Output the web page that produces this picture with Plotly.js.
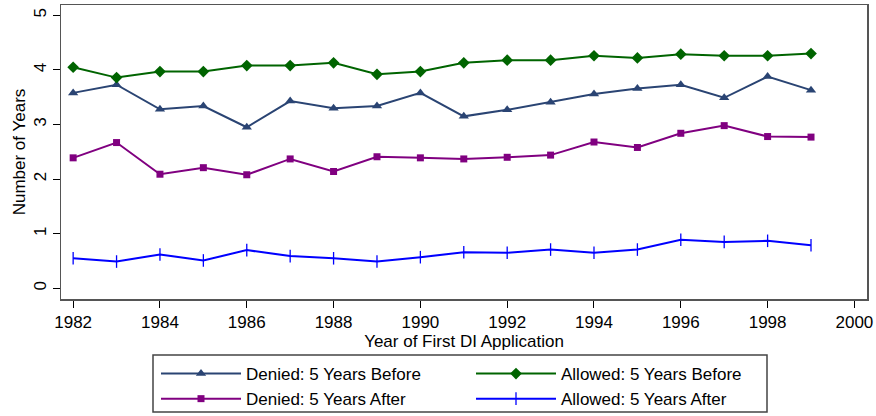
<!DOCTYPE html>
<html>
<head>
<meta charset="utf-8">
<script src="https://cdn.plot.ly/plotly-3.0.1.min.js"></script>
<style>html,body{margin:0;padding:0;background:#fff;}#chart{width:876px;height:416px;}</style>
</head>
<body>
<div id="chart"></div>
<script>
const years = [1982,1983,1984,1985,1986,1987,1988,1989,1990,1991,1992,1993,1994,1995,1996,1997,1998,1999];
const deniedBefore  = [3.58,3.73,3.28,3.34,2.95,3.43,3.30,3.34,3.58,3.15,3.27,3.41,3.56,3.66,3.73,3.49,3.88,3.63];
const allowedBefore = [4.05,3.86,3.97,3.97,4.08,4.08,4.13,3.92,3.97,4.13,4.18,4.18,4.26,4.22,4.29,4.26,4.26,4.30];
const deniedAfter   = [2.39,2.67,2.09,2.21,2.08,2.37,2.14,2.41,2.39,2.37,2.40,2.44,2.68,2.58,2.84,2.98,2.78,2.77];
const allowedAfter  = [0.55,0.49,0.62,0.51,0.70,0.59,0.55,0.49,0.57,0.66,0.65,0.71,0.65,0.71,0.89,0.85,0.87,0.79];
const seriesNames = ["Denied: 5 Years Before","Allowed: 5 Years Before","Denied: 5 Years After","Allowed: 5 Years After"];
const xTicks = [1982,1984,1986,1988,1990,1992,1994,1996,1998,2000];
const yTicks = [0,1,2,3,4,5];

const font = "Liberation Sans, Arial, sans-serif";
function tr(y, name, color, symbol, size, lineW) {
  return {x: years, y: y, name: name, type: 'scatter', mode: 'lines+markers',
    line: {color: color, width: 2},
    marker: {color: color, symbol: symbol, size: size, line: {color: color, width: lineW}}};
}
const data = [
  tr(deniedBefore, seriesNames[0], '#2a4473', 'triangle-up', 9, 0),
  tr(allowedBefore, seriesNames[1], '#006400', 'diamond', 9, 0),
  tr(deniedAfter, seriesNames[2], '#800080', 'square', 7, 0),
  tr(allowedAfter, seriesNames[3], '#0000ff', 'line-ns-open', 9, 1.3)
];
// legend frame (plot area spans x 61..867, y 5..299 in pixels)
const W = 806, H = 294;
const layout = {
  width: 876, height: 416,
  margin: {l: 61, r: 9, t: 5, b: 117},
  paper_bgcolor: '#fff', plot_bgcolor: '#fff',
  font: {family: font, size: 17, color: '#000'},
  showlegend: true,
  xaxis: {range: [1981.72, 2000.29], tickvals: xTicks, ticktext: xTicks.map(String),
    ticks: 'outside', ticklen: 7, tickcolor: '#000', tickwidth: 1,
    showline: true, mirror: true, linecolor: '#555', linewidth: 1.5,
    showgrid: false, zeroline: false, tickfont: {size: 17}, automargin: false,
    title: {text: 'Year of First DI Application', font: {size: 17}, standoff: 2}},
  yaxis: {range: [-0.196, 5.19], tickvals: yTicks, ticktext: yTicks.map(String),
    ticks: 'outside', ticklen: 7, tickcolor: '#000', tickwidth: 1, tickangle: -90,
    showline: true, mirror: true, linecolor: '#555', linewidth: 1.5,
    showgrid: false, zeroline: false, tickfont: {size: 17}, automargin: false,
    title: {text: 'Number of Years', font: {size: 17}, standoff: 1}},
  legend: {orientation: 'h', xref: 'container', yref: 'container',
    x: 156/876, xanchor: 'left', y: 1 - 356/416, yanchor: 'top',
    borderwidth: 0, bgcolor: 'rgba(0,0,0,0)',
    entrywidth: 220, entrywidthmode: 'pixels', itemwidth: 80,
    font: {size: 17}, tracegroupgap: 0, traceorder: 'normal'},
  shapes: [{type: 'rect', xref: 'paper', yref: 'paper', layer: 'below',
    x0: (153 - 61) / W, x1: (767 - 61) / W, y0: -(355 - 299) / H, y1: -(412 - 299) / H,
    line: {color: '#444', width: 1.5}, fillcolor: 'rgba(0,0,0,0)'}]
};
Plotly.newPlot('chart', data, layout, {displayModeBar: false, staticPlot: true});
</script>
</body>
</html>
